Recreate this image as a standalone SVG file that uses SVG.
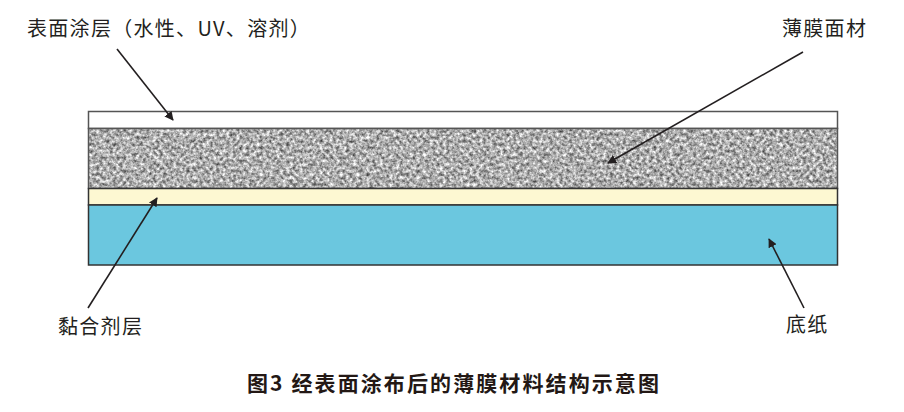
<svg xmlns="http://www.w3.org/2000/svg" width="904" height="412" viewBox="0 0 904 412">
<style>
.lbl{font-family:"Noto Sans CJK SC","Noto Sans",sans-serif;font-size:20px;fill:#231f20;letter-spacing:1.3px}
.cap{font-family:"Noto Sans CJK SC","Noto Sans",sans-serif;font-size:21px;font-weight:bold;fill:#231815;letter-spacing:2.1px}
.conn line{stroke:#231f20;stroke-width:1.6;marker-end:url(#ah)}
</style>
<defs>
<marker id="ah" viewBox="0 0 10 10" refX="9" refY="5" markerWidth="9" markerHeight="9" markerUnits="userSpaceOnUse" orient="auto">
<path d="M0,0 L10,5 L0,10 z" fill="#231f20"/>
</marker>
<filter id="noise" x="0" y="0" width="100%" height="100%" color-interpolation-filters="sRGB">
<feTurbulence type="fractalNoise" baseFrequency="0.3" numOctaves="3" seed="7"/>
<feColorMatrix type="matrix" values="1.1 0 0 0 0.13  1.1 0 0 0 0.13  1.1 0 0 0 0.13  0 0 0 0 1"/>
</filter>
</defs>
<rect width="904" height="412" fill="#fff"/>
<g id="layer-coating">
<rect x="88.5" y="111.5" width="749" height="17" fill="#fff" stroke="#555" stroke-width="1.5"/>
</g>
<g id="layer-film">
<rect x="88.5" y="128.5" width="749" height="60" fill="#aaa" filter="url(#noise)"/>
<rect x="88.5" y="128.5" width="749" height="60" fill="none" stroke="#555" stroke-width="1.5"/>
</g>
<g id="layer-adhesive">
<rect x="88.5" y="188.5" width="749" height="16.5" fill="#fdf8d2" stroke="#333" stroke-width="1.5"/>
</g>
<g id="layer-paper">
<rect x="88.5" y="205" width="749" height="60" fill="#6bc7df" stroke="#333" stroke-width="1.5"/>
</g>
<g id="connectors" class="conn">
<line x1="117" y1="49" x2="173" y2="120"/>
<line x1="803" y1="52" x2="608" y2="163"/>
<line x1="88" y1="308" x2="157" y2="198"/>
<line x1="804" y1="308" x2="769" y2="239"/>
</g>
<g id="label-coating"><text class="lbl" x="27" y="36">表面涂层（水性、UV、溶剂）</text></g>
<g id="label-film"><text class="lbl" x="782" y="36">薄膜面材</text></g>
<g id="label-adhesive"><text class="lbl" x="58" y="334">黏合剂层</text></g>
<g id="label-paper"><text class="lbl" x="786" y="332">底纸</text></g>
<g id="caption"><text class="cap" x="247" y="391">图3 经表面涂布后的薄膜材料结构示意图</text></g>
</svg>
